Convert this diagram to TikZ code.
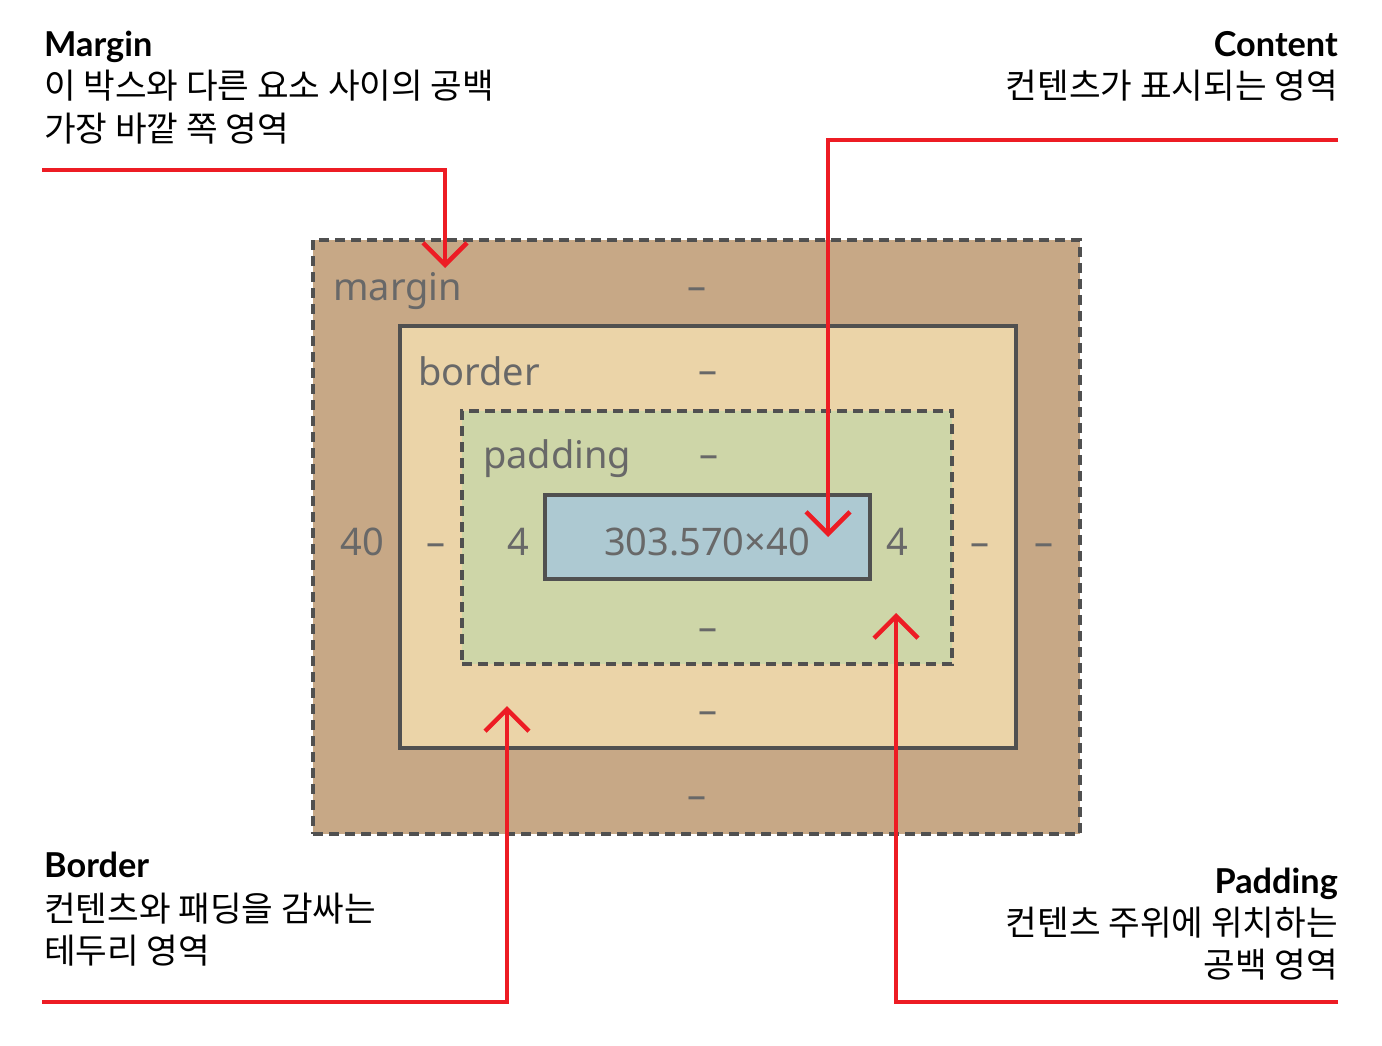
\documentclass[tikz,border=0pt]{standalone}
\usepackage{fontspec}
\setmainfont{Noto Sans}
\newfontfamily\kr{Noto Sans CJK KR}
\newfontfamily\headfont{Lato}
\usetikzlibrary{arrows.meta}
\definecolor{myred}{HTML}{ED1C24}
\definecolor{strokegray}{HTML}{505050}
\definecolor{labelgray}{HTML}{686868}
\definecolor{marginfill}{HTML}{C7A886}
\definecolor{borderfill}{HTML}{EBD4A8}
\definecolor{paddingfill}{HTML}{CED6A8}
\definecolor{contentfill}{HTML}{ADC9D2}
\begin{document}
\begin{tikzpicture}[x=1pt,y=-1pt,
  boxbase/.style={rectangle, inner sep=0pt, outer sep=0pt, draw=strokegray, line width=3.5pt},
  dashbox/.style={boxbase, dash pattern=on 10pt off 6pt},
  boxlbl/.style={text=labelgray, font=\fontsize{38}{44}\selectfont, inner sep=0pt},
  head/.style={font=\headfont\bfseries\fontsize{34.3}{40}\selectfont, inner sep=0pt},
  krline/.style={font=\kr\fontsize{34.4}{40}\selectfont, inner sep=0pt},
  redline/.style={draw=myred, line width=4.5pt, -{Straight Barb[length=22pt,width=44pt]}}
]
\useasboundingbox[fill=white] (0,0) rectangle (1382,1046);

% boxes
\node[dashbox, fill=marginfill, minimum width=767pt, minimum height=594pt] (mbox) at (696.5,537) {};
\node[boxbase, fill=borderfill, minimum width=616pt, minimum height=422pt] (bbox) at (708,537) {};
\node[dashbox, fill=paddingfill, minimum width=490pt, minimum height=253pt] (pbox) at (707,537.5) {};
\node[boxbase, fill=contentfill, minimum width=325pt, minimum height=84pt] (cbox) at (707.5,537) {};

% box labels
\node[boxlbl, anchor=base west] (lmargin) at (333,300) {margin};
\node[boxlbl, anchor=base west] (lborder) at (418,385) {border};
\node[boxlbl, anchor=base west] (lpadding) at (483,468) {padding};
\node[boxlbl, anchor=base] (dmt) at (697,299) {–};
\node[boxlbl, anchor=base] (dbt) at (708,383) {–};
\node[boxlbl, anchor=base] (dpt) at (709,467) {–};
\node[boxlbl, anchor=base] (dpb) at (708,640) {–};
\node[boxlbl, anchor=base] (dbb) at (708,723) {–};
\node[boxlbl, anchor=base] (dmb) at (697,808) {–};
\node[boxlbl, anchor=base] (ml) at (362,555) {40};
\node[boxlbl, anchor=base] (bl) at (436,555) {–};
\node[boxlbl, anchor=base] (pl) at (518,555) {4};
\node[boxlbl, anchor=base] (csize) at (707,555) {303.570×40};
\node[boxlbl, anchor=base] (pr) at (897,555) {4};
\node[boxlbl, anchor=base] (br) at (980,555) {–};
\node[boxlbl, anchor=base] (mr) at (1044,555) {–};

% descriptions
\node[head, anchor=base west] (hm) at (44,57) {Margin};
\node[krline, anchor=base west] (hm1) at (44,99) {이 박스와 다른 요소 사이의 공백};
\node[krline, anchor=base west] (hm2) at (44,142) {가장 바깥 쪽 영역};

\node[head, anchor=base east] (hc) at (1338,57) {Content};
\node[krline, anchor=base east] (hc1) at (1338,99) {컨텐츠가 표시되는 영역};

\node[head, anchor=base west] (hb) at (44,877) {Border};
\node[krline, anchor=base west] (hb1) at (44,921) {컨텐츠와 패딩을 감싸는};
\node[krline, anchor=base west] (hb2) at (44,963) {테두리 영역};

\node[head, anchor=base east] (hp) at (1338,893) {Padding};
\node[krline, anchor=base east] (hp1) at (1338,935) {컨텐츠 주위에 위치하는};
\node[krline, anchor=base east] (hp2) at (1338,977) {공백 영역};

% red connectors
\coordinate (mS) at (42,170);
\coordinate (mT) at (445,268);
\coordinate (cS) at (1338,140);
\coordinate (cT) at (828,537);
\coordinate (bS) at (42,1002);
\coordinate (bT) at (507,706);
\coordinate (pS) at (1338,1002);
\coordinate (pT) at (896,613);
\draw[redline] (mS) -| (mT);
\draw[redline] (cS) -| (cT);
\draw[redline] (bS) -| (bT);
\draw[redline] (pS) -| (pT);
\end{tikzpicture}
\end{document}
